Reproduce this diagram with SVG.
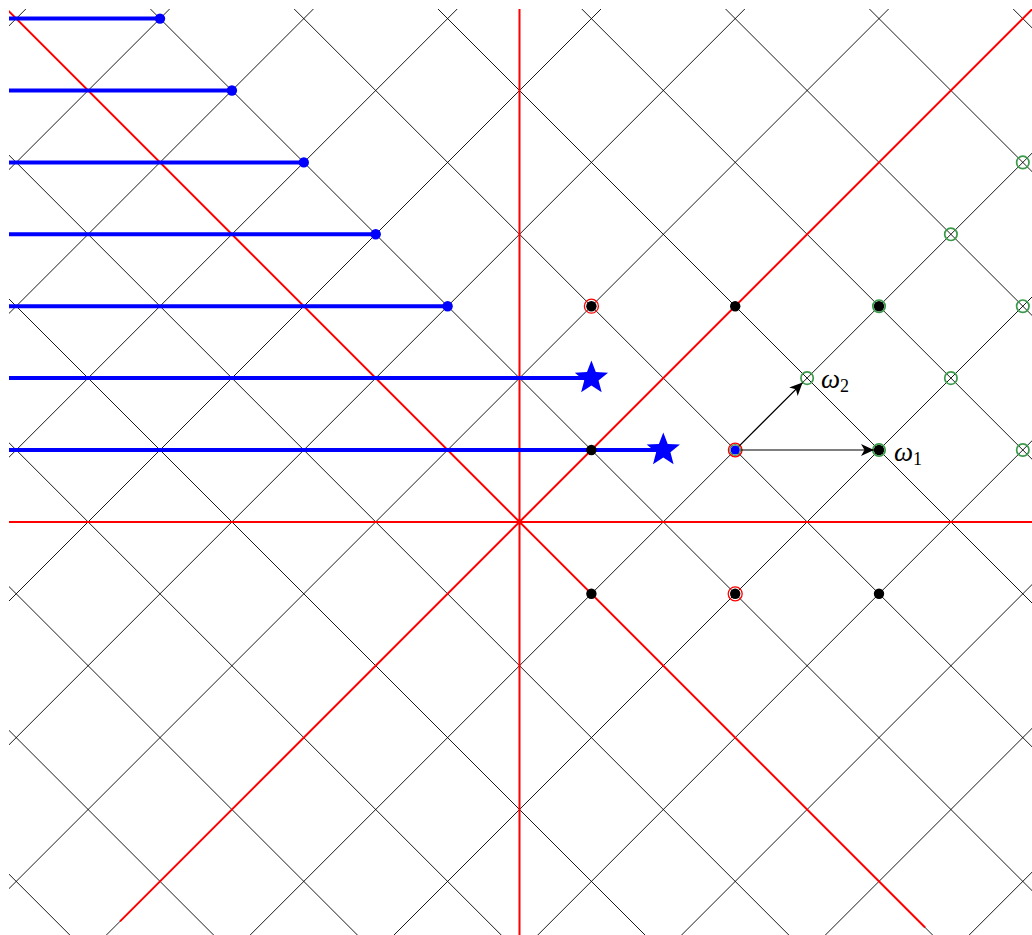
<svg xmlns="http://www.w3.org/2000/svg" xmlns:xlink="http://www.w3.org/1999/xlink" width="1032" height="935" viewBox="0 0 1032 935">
<style>
.grid{fill:none;stroke:#000;stroke-width:0.9}
.red{fill:none;stroke:#ff0000;stroke-width:2}
.blue{fill:none;stroke:#0000ff;stroke-width:4}
.bdot{fill:#0000ff}
.kdot{fill:#000}
.rring{fill:none;stroke:#ff0000;stroke-width:1.3}
.gring{fill:none;stroke:#3a9a4a;stroke-width:1.7}
.arrow{fill:none;stroke:#000;stroke-width:1.2}
.lbl{font-family:"Liberation Serif",serif;font-style:italic;font-size:27px;fill:#000}
.sub{font-style:normal;font-size:18px}
</style>
<defs>
<clipPath id="clip"><rect x="9" y="9" width="1023" height="926"/></clipPath>
<path id="star" d="M0,-17.5 L4.41,-6.07 L16.64,-5.41 L7.13,2.32 L10.29,14.16 L0,7.5 L-10.29,14.16 L-7.13,2.32 L-16.64,-5.41 L-4.41,-6.07 Z" fill="#0000ff"/>
<marker id="ah" viewBox="-14 -7 15 14" markerWidth="15" markerHeight="14" refX="0" refY="0" orient="auto" markerUnits="userSpaceOnUse"><path d="M0,0 L-13,-6 L-9.5,0 L-13,6 Z" fill="#000"/></marker>
</defs>
<rect width="1032" height="935" fill="#fff"/>
<g clip-path="url(#clip)">
<g id="grid" transform="translate(519.5 521.9)">
<path class="grid" d="M-1962.8 -1100 L237.2 1100 M-1819 -1100 L381 1100 M-1675.2 -1100 L524.8 1100 M-1531.4 -1100 L668.6 1100 M-1387.6 -1100 L812.4 1100 M-1243.8 -1100 L956.2 1100 M-1100 -1100 L1100 1100 M-956.2 -1100 L1243.8 1100 M-812.4 -1100 L1387.6 1100 M-668.6 -1100 L1531.4 1100 M-524.8 -1100 L1675.2 1100 M-381 -1100 L1819 1100 M-237.2 -1100 L1962.8 1100 M-93.4 -1100 L2106.6 1100"/>
<path class="grid" d="M-2106.6 1100 L93.4 -1100 M-1962.8 1100 L237.2 -1100 M-1819 1100 L381 -1100 M-1675.2 1100 L524.8 -1100 M-1531.4 1100 L668.6 -1100 M-1387.6 1100 L812.4 -1100 M-1243.8 1100 L956.2 -1100 M-1100 1100 L1100 -1100 M-956.2 1100 L1243.8 -1100 M-812.4 1100 L1387.6 -1100 M-668.6 1100 L1531.4 -1100 M-524.8 1100 L1675.2 -1100 M-381 1100 L1819 -1100 M-237.2 1100 L1962.8 -1100"/>
<path class="red" d="M0 -600 V600 M-600 0 H600 M-600 -600 L405.6 405.6 M-399.5 399.5 L600 -600"/>
</g>
<g id="blue-lines">
<path class="blue" d="M0 18.6 H160 M0 90.5 H231.9 M0 162.4 H303.8 M0 234.3 H375.7 M0 306.2 H447.6 M0 378.1 H591.4 M0 450 H663.3"/>
</g>
</g>
<g id="blue-dots">
<circle class="bdot" cx="160" cy="18.6" r="5.2"/>
<circle class="bdot" cx="231.9" cy="90.5" r="5.2"/>
<circle class="bdot" cx="303.8" cy="162.4" r="5.2"/>
<circle class="bdot" cx="375.7" cy="234.3" r="5.2"/>
<circle class="bdot" cx="447.6" cy="306.2" r="5.2"/>
</g>
<g id="stars">
<use xlink:href="#star" href="#star" x="591.4" y="378.1"/>
<use xlink:href="#star" href="#star" x="663.3" y="450"/>
</g>
<g id="black-dots">
<circle class="kdot" cx="735.2" cy="306.2" r="5.2"/>
<circle class="kdot" cx="591.4" cy="450" r="5.2"/>
<circle class="kdot" cx="591.4" cy="593.8" r="5.2"/>
<circle class="kdot" cx="879" cy="593.8" r="5.2"/>
</g>
<g id="red-ringed">
<circle class="kdot" cx="591.4" cy="306.2" r="5.2"/>
<circle class="rring" cx="591.4" cy="306.2" r="7"/>
<circle class="kdot" cx="735.2" cy="593.8" r="5.2"/>
<circle class="rring" cx="735.2" cy="593.8" r="7"/>
</g>
<g id="green-ringed">
<circle class="kdot" cx="879" cy="306.2" r="5.2"/>
<circle class="gring" cx="879" cy="306.2" r="6.2"/>
<circle class="kdot" cx="879" cy="450" r="5.2"/>
<circle class="gring" cx="879" cy="450" r="6.2"/>
</g>
<g id="origin">
<circle class="bdot" cx="735.2" cy="450" r="4.6"/>
<circle class="gring" cx="735.2" cy="450" r="5.4" style="stroke-width:1.2"/>
<circle class="rring" cx="735.2" cy="450" r="6.8"/>
</g>
<g id="otimes">
<circle class="gring" cx="807.1" cy="378.1" r="6.2"/>
<circle class="gring" cx="950.9" cy="234.3" r="6.2"/>
<circle class="gring" cx="950.9" cy="378.1" r="6.2"/>
<circle class="gring" cx="1022.8" cy="162.4" r="6.2"/>
<circle class="gring" cx="1022.8" cy="306.2" r="6.2"/>
<circle class="gring" cx="1022.8" cy="450" r="6.2"/>
</g>
<g id="connectors">
<path class="arrow" d="M741 450 H874" marker-end="url(#ah)"/>
<path class="arrow" d="M739.5 445.7 L802.6 382.6" marker-end="url(#ah)"/>
</g>
<g id="labels">
<text class="lbl" x="821" y="388">ω<tspan class="sub" dy="4">2</tspan></text>
<text class="lbl" x="894" y="461">ω<tspan class="sub" dy="4">1</tspan></text>
</g>
</svg>
